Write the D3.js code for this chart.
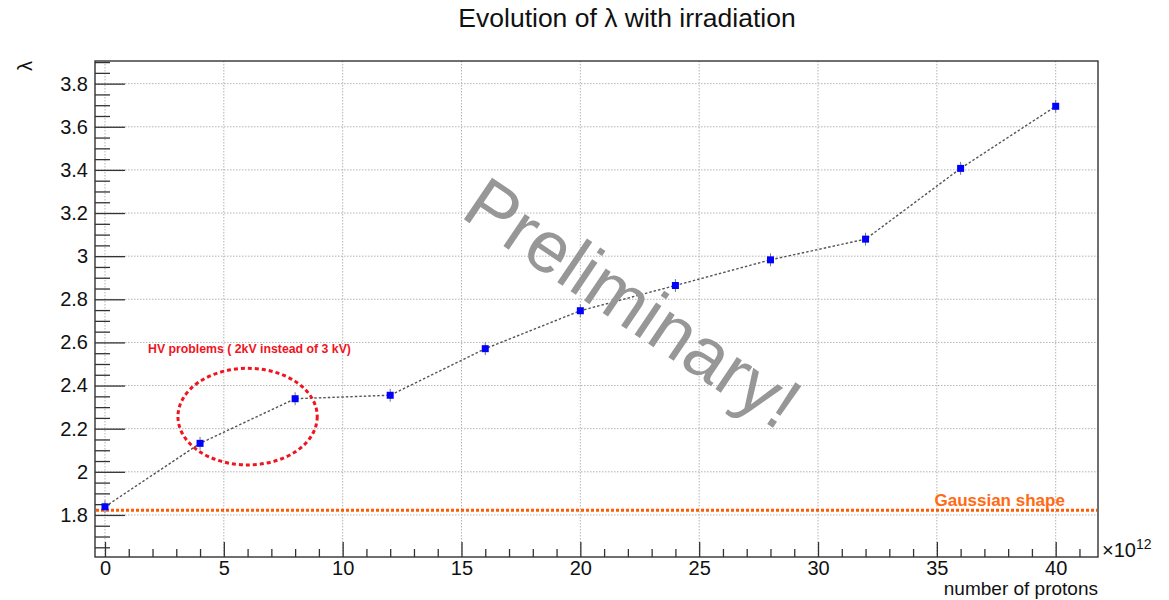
<!DOCTYPE html>
<html>
<head>
<meta charset="utf-8">
<script src="https://cdn.jsdelivr.net/npm/d3@7"></script>
<style>
  html, body { margin: 0; padding: 0; background: #fff; }
  svg { display: block; font-family: "Liberation Sans", Arial, Helvetica, sans-serif; }
</style>
</head>
<body>
<svg id="chart" width="1169" height="600"></svg>
<script>
// Measured λ versus delivered proton fluence (units of 1e12 protons)
const protons = [0, 4, 8, 12, 16, 20, 24, 28, 32, 36, 40];
const lambdaValues = [1.838, 2.132, 2.339, 2.355, 2.571, 2.747, 2.864, 2.983, 3.079, 3.407, 3.695];
const lambdaErrors = [0.03, 0.03, 0.03, 0.03, 0.03, 0.03, 0.03, 0.03, 0.03, 0.03, 0.03];

// Reference level for a Gaussian shape
const gaussianLevel = [1.822];

// Axis ticks
const xMajorTicks = [0, 5, 10, 15, 20, 25, 30, 35, 40];
const yMajorTicks = [1.8, 2.0, 2.2, 2.4, 2.6, 2.8, 3.0, 3.2, 3.4, 3.6, 3.8];
const yTickLabels = ["1.8", "2", "2.2", "2.4", "2.6", "2.8", "3", "3.2", "3.4", "3.6", "3.8"];

// Highlighted region around the low-voltage runs: centre (x, λ) and radii
const hvRegion = [6.0, 2.256, 2.93, 0.224];

const svg = d3.select("#chart");
const frame = { left: 95, right: 1098, top: 61, bottom: 557 };

const x = d3.scaleLinear().domain([-0.42, 41.78]).range([frame.left, frame.right]);
const y = d3.scaleLinear().domain([1.605, 3.905]).range([frame.bottom, frame.top]);

const xMinor = d3.range(0, 42, 1).filter(v => !xMajorTicks.includes(v));
const yMinor = d3.range(1.65, 3.91, 0.05).map(v => +v.toFixed(2))
  .filter(v => !yMajorTicks.some(t => Math.abs(t - v) < 1e-6));

// Grid
const grid = svg.append("g").attr("stroke", "#b4b4b4").attr("stroke-width", 1)
  .attr("stroke-dasharray", "1.5,1.5");
grid.selectAll("line.gx").data(xMajorTicks).join("line")
  .attr("x1", d => x(d)).attr("x2", d => x(d))
  .attr("y1", frame.top).attr("y2", frame.bottom);
grid.selectAll("line.gy").data(yMajorTicks).join("line")
  .attr("x1", frame.left).attr("x2", frame.right)
  .attr("y1", d => y(d)).attr("y2", d => y(d));

// Axes
const axisColor = "#333";
function styleAxis(g) {
  g.select(".domain").remove();
  g.selectAll(".tick line").attr("stroke", axisColor).attr("stroke-width", 1.3);
  g.selectAll(".tick text").attr("fill", "#111").style("font-size", "20px");
}

svg.append("g").attr("transform", `translate(${frame.left},0)`)
  .call(d3.axisLeft(y).tickValues(yMajorTicks).tickSize(-30).tickPadding(7)
    .tickFormat((d, i) => yTickLabels[i]))
  .call(styleAxis);
svg.append("g").attr("transform", `translate(0,0) translate(${frame.left},0)`)
  .call(d3.axisLeft(y).tickValues(yMinor).tickSize(-15).tickFormat(""))
  .call(styleAxis);

svg.append("g").attr("transform", `translate(0,${frame.bottom})`)
  .call(d3.axisBottom(x).tickValues(xMajorTicks).tickSize(-15).tickPadding(4)
    .tickFormat(d3.format("d")))
  .call(styleAxis);
svg.append("g").attr("transform", `translate(0,${frame.bottom})`)
  .call(d3.axisBottom(x).tickValues(xMinor).tickSize(-8).tickFormat(""))
  .call(styleAxis);

// Frame
svg.append("rect")
  .attr("x", frame.left).attr("y", frame.top)
  .attr("width", frame.right - frame.left).attr("height", frame.bottom - frame.top)
  .attr("fill", "none").attr("stroke", axisColor).attr("stroke-width", 1.4);

// Gaussian reference line
svg.selectAll("line.gauss").data(gaussianLevel).join("line")
  .attr("x1", frame.left + 1).attr("x2", frame.right - 1)
  .attr("y1", d => y(d)).attr("y2", d => y(d))
  .attr("stroke", "#ff5a00").attr("stroke-width", 3)
  .attr("stroke-dasharray", "3,2");
svg.append("text")
  .attr("x", x(34.9)).attr("y", y(gaussianLevel[0]) - 4)
  .attr("fill", "#ff6a13").style("font-size", "17px").style("font-weight", "bold")
  .text("Gaussian shape");

// Connecting line
const pts = protons.map((p, i) => [p, lambdaValues[i], lambdaErrors[i]]);
svg.append("path").datum(pts)
  .attr("d", d3.line().x(d => x(d[0])).y(d => y(d[1])))
  .attr("fill", "none").attr("stroke", "#555").attr("stroke-width", 1.4)
  .attr("stroke-dasharray", "2.5,2");

// Error bars
const err = svg.append("g").attr("stroke", "#777").attr("stroke-width", 1);
err.selectAll("line.e").data(pts).join("line")
  .attr("x1", d => x(d[0])).attr("x2", d => x(d[0]))
  .attr("y1", d => y(d[1] - d[2])).attr("y2", d => y(d[1] + d[2]));

// Markers
svg.selectAll("rect.m").data(pts).join("rect")
  .attr("x", d => x(d[0]) - 3.5).attr("y", d => y(d[1]) - 3.5)
  .attr("width", 7).attr("height", 7).attr("fill", "#0000ff");

// Highlighted region
svg.append("ellipse")
  .attr("cx", x(hvRegion[0])).attr("cy", y(hvRegion[1]))
  .attr("rx", x(hvRegion[0] + hvRegion[2]) - x(hvRegion[0]))
  .attr("ry", y(hvRegion[1]) - y(hvRegion[1] + hvRegion[3]))
  .attr("fill", "none").attr("stroke", "#f0141e").attr("stroke-width", 3)
  .attr("stroke-dasharray", "4,3");
svg.append("text")
  .attr("x", 148).attr("y", 353)
  .attr("fill", "#f0141e").style("font-size", "12.3px").style("font-weight", "bold")
  .text("HV problems ( 2kV instead of 3 kV)");

// Watermark
svg.append("text")
  .attr("transform", "translate(459,216) rotate(34)")
  .attr("fill", "#979797").style("font-size", "73px")
  .text("Preliminary!");

// Title
svg.append("text")
  .attr("x", 627).attr("y", 27).attr("text-anchor", "middle")
  .attr("fill", "#111").style("font-size", "26.5px")
  .text("Evolution of λ with irradiation");

// Axis titles
svg.append("text")
  .attr("transform", `translate(32,${frame.top}) rotate(-90)`)
  .attr("text-anchor", "end").attr("fill", "#111").style("font-size", "20px")
  .text("λ");
svg.append("text")
  .attr("x", frame.right).attr("y", 595).attr("text-anchor", "end")
  .attr("fill", "#111").style("font-size", "19px")
  .text("number of protons");
const expo = svg.append("text").attr("x", 1102).attr("y", 557)
  .attr("fill", "#111").style("font-size", "20px");
expo.append("tspan").text("×10");
expo.append("tspan").attr("dy", -8).style("font-size", "14px").text("12");
</script>
</body>
</html>
